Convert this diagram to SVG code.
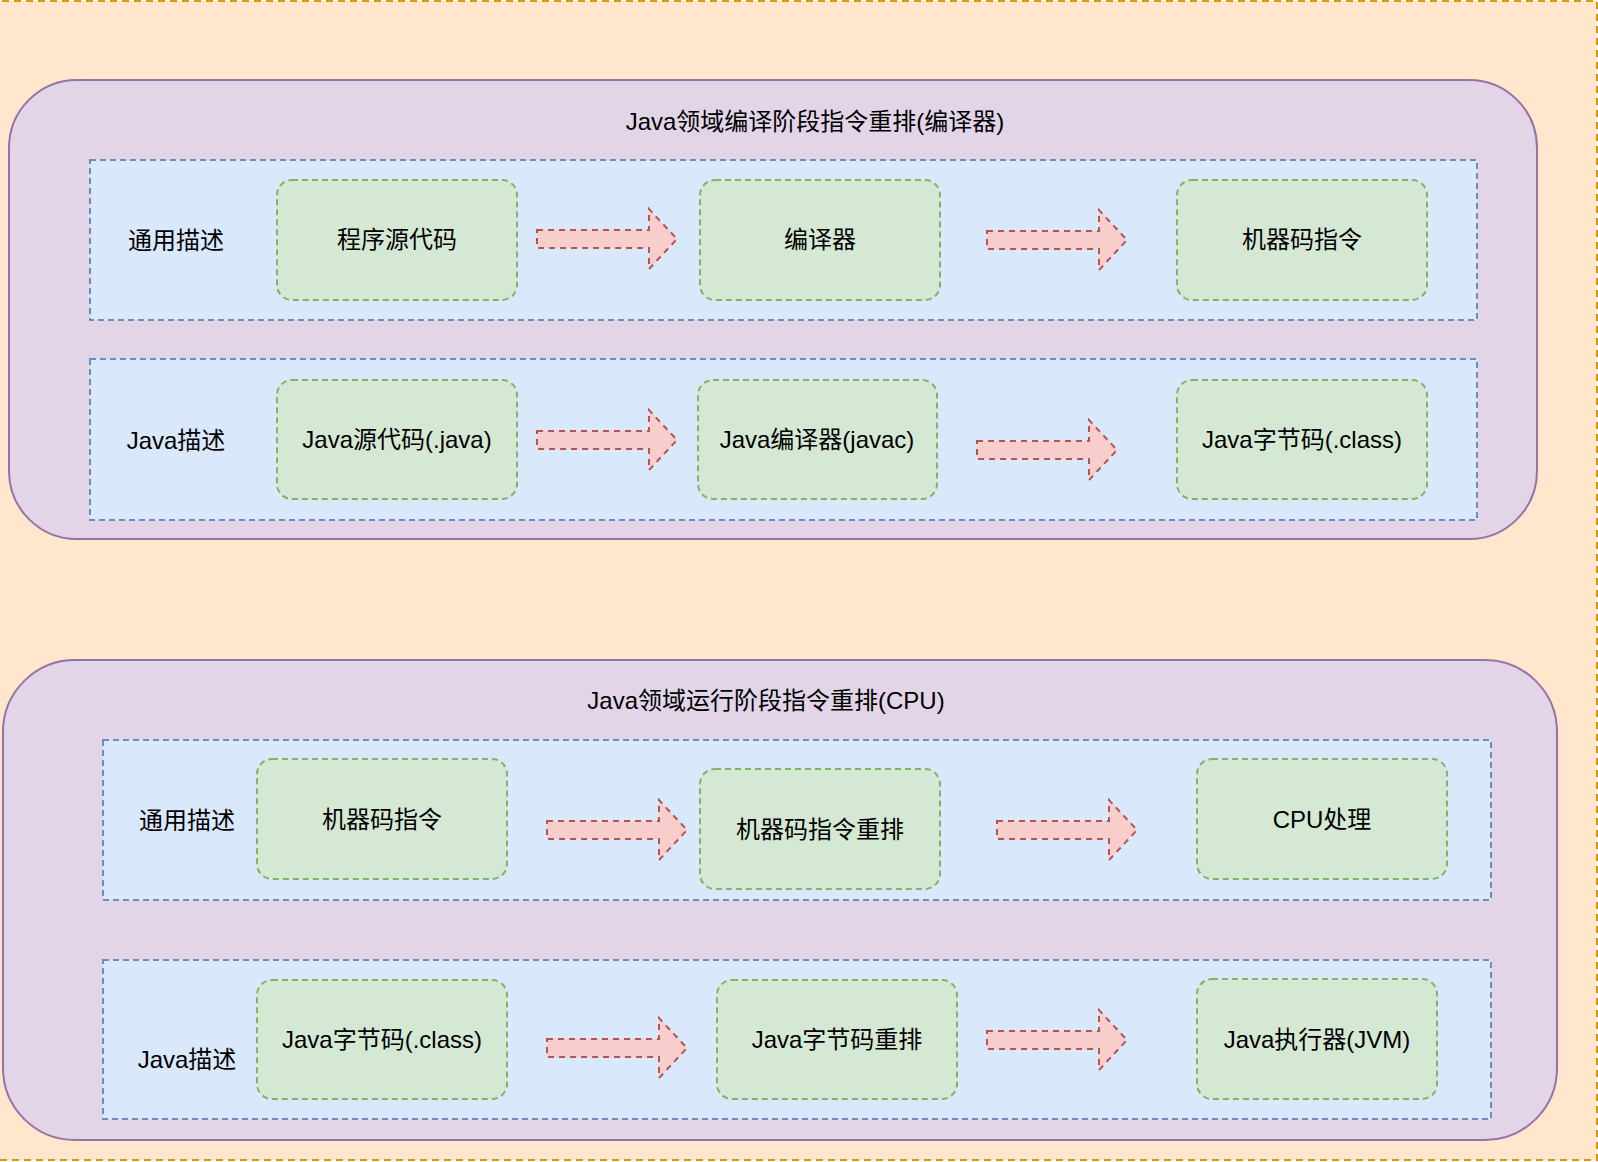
<svg xmlns="http://www.w3.org/2000/svg" width="1598" height="1162" viewBox="0 0 1598 1162">
<style>
text{font-family:"Liberation Sans","Noto Sans CJK SC",sans-serif;font-size:24px;fill:#000;text-anchor:middle}
.bg{fill:#ffe6cc;stroke:#d79b00;stroke-width:2;stroke-dasharray:7 5}
.grp{fill:#e1d5e7;stroke:#9673a6;stroke-width:2}
.lane{fill:#dae8fc;stroke:#6c8ebf;stroke-width:2;stroke-dasharray:6 4}
.node{fill:#d5e8d4;stroke:#82b366;stroke-width:2;stroke-dasharray:6 4}
.arr{fill:#f8cecc;stroke:#b85450;stroke-width:2;stroke-dasharray:6 5}
</style>
<defs>
<path id="ar" d="M0,-9 H112 V-30 L140,0 L112,30 V9 H0 Z"/>
</defs>
<rect class="bg" x="-10" y="1" width="1607" height="1159"/>

<g id="stage-compile">
<rect class="grp" x="9" y="80" width="1528" height="459" rx="68" ry="68"/>
<text x="815" y="130">Java领域编译阶段指令重排(编译器)</text>
</g>
<g id="lane-compile-general">
<rect class="lane" x="90" y="160" width="1387" height="160"/>
<text x="176" y="249">通用描述</text>
</g>
<g id="lane-compile-java">
<rect class="lane" x="90" y="359" width="1387" height="161"/>
<text x="176" y="449">Java描述</text>
</g>

<g id="stage-run">
<rect class="grp" x="3" y="660" width="1554" height="480" rx="72" ry="72"/>
<text x="766" y="709">Java领域运行阶段指令重排(CPU)</text>
</g>
<g id="lane-run-general">
<rect class="lane" x="103" y="740" width="1388" height="160"/>
<text x="187" y="829">通用描述</text>
</g>
<g id="lane-run-java">
<rect class="lane" x="103" y="960" width="1388" height="159"/>
<text x="187" y="1068">Java描述</text>
</g>

<g id="n-src"><rect class="node" x="277" y="180" width="240" height="120" rx="15"/><text x="397" y="248">程序源代码</text></g>
<g id="n-compiler"><rect class="node" x="700" y="180" width="240" height="120" rx="15"/><text x="820" y="248">编译器</text></g>
<g id="n-machine"><rect class="node" x="1177" y="180" width="250" height="120" rx="15"/><text x="1302" y="248">机器码指令</text></g>

<g id="n-javasrc"><rect class="node" x="277" y="380" width="240" height="119" rx="15"/><text x="397" y="448">Java源代码(.java)</text></g>
<g id="n-javac"><rect class="node" x="698" y="380" width="239" height="119" rx="15"/><text x="817" y="448">Java编译器(javac)</text></g>
<g id="n-bytecode1"><rect class="node" x="1177" y="380" width="250" height="119" rx="15"/><text x="1302" y="448">Java字节码(.class)</text></g>

<g id="n-machine2"><rect class="node" x="257" y="759" width="250" height="120" rx="15"/><text x="382" y="828">机器码指令</text></g>
<g id="n-reorder"><rect class="node" x="700" y="769" width="240" height="120" rx="15"/><text x="820" y="838">机器码指令重排</text></g>
<g id="n-cpu"><rect class="node" x="1197" y="759" width="250" height="120" rx="15"/><text x="1322" y="828">CPU处理</text></g>

<g id="n-bytecode2"><rect class="node" x="257" y="980" width="250" height="119" rx="15"/><text x="382" y="1048">Java字节码(.class)</text></g>
<g id="n-bcreorder"><rect class="node" x="717" y="980" width="240" height="119" rx="15"/><text x="837" y="1048">Java字节码重排</text></g>
<g id="n-jvm"><rect class="node" x="1197" y="979" width="240" height="120" rx="15"/><text x="1317" y="1048">Java执行器(JVM)</text></g>

<g id="connectors">
<use href="#ar" class="arr" transform="translate(537,239)"/>
<use href="#ar" class="arr" transform="translate(987,240)"/>
<use href="#ar" class="arr" transform="translate(537,440)"/>
<use href="#ar" class="arr" transform="translate(977,450)"/>
<use href="#ar" class="arr" transform="translate(547,830)"/>
<use href="#ar" class="arr" transform="translate(997,830)"/>
<use href="#ar" class="arr" transform="translate(547,1048)"/>
<use href="#ar" class="arr" transform="translate(987,1040)"/>
</g>
</svg>
